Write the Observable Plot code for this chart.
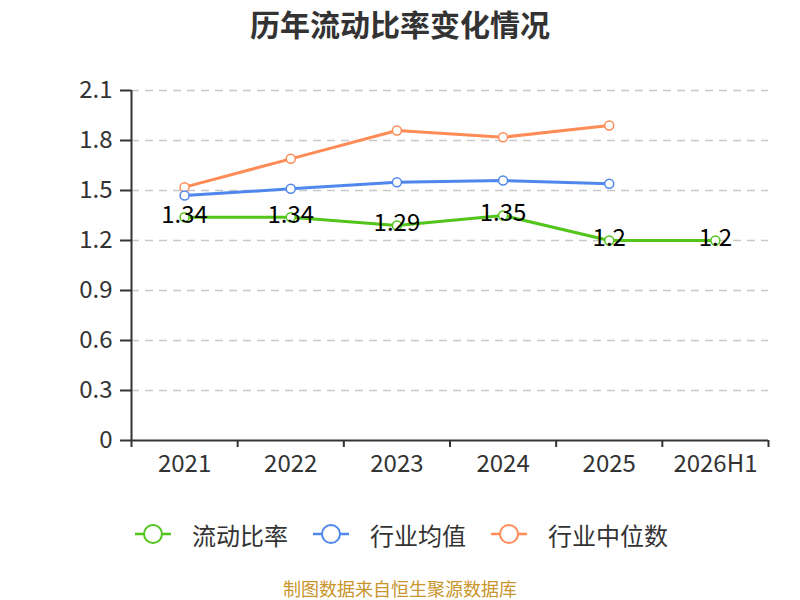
<!DOCTYPE html>
<html>
<head>
<meta charset="utf-8">
<script src="https://cdn.jsdelivr.net/npm/d3@7"></script>
<script src="https://cdn.jsdelivr.net/npm/@observablehq/plot@0.6"></script>
<style>
  body { margin: 0; background: #fff; font-family: "Noto Sans CJK SC", "Noto Sans", sans-serif; }
  #wrap { position: relative; width: 800px; height: 600px; overflow: hidden; }
  #title { position: absolute; top: 0; left: 0; width: 800px; height: 50px; line-height: 46px; text-align: center; font-size: 30px; font-weight: bold; color: #333; }
  #chart { position: absolute; top: 50px; left: 0; }
  #legend { position: absolute; top: 516px; left: 0; width: 800px; height: 36px; }
  .item { position: absolute; top: 0; height: 36px; display: flex; align-items: center; font-size: 24px; color: #333; }
  .item svg { margin-right: 20px; }
  #caption { position: absolute; top: 578px; left: 0; width: 800px; height: 20px; line-height: 20px; text-align: center; font-size: 18px; color: #c8952c; }
</style>
</head>
<body>
<div id="wrap">
  <div id="title">历年流动比率变化情况</div>
  <div id="chart"></div>
  <div id="legend"></div>
  <div id="caption">制图数据来自恒生聚源数据库</div>
</div>
<script>
const categories = ["2021", "2022", "2023", "2024", "2025", "2026H1"];
const currentRatio = [1.34, 1.34, 1.29, 1.35, 1.2, 1.2];
const industryMean = [1.47, 1.51, 1.55, 1.56, 1.54];
const industryMedian = [1.52, 1.69, 1.86, 1.82, 1.89];
const yTicks = [0, 0.3, 0.6, 0.9, 1.2, 1.5, 1.8, 2.1];

const seriesNames = ["流动比率", "行业均值", "行业中位数"];
const seriesColors = ["#52c41a", "#5087ec", "#ff8b57"];

const toRows = (vals) => vals.map((v, i) => ({ x: i + 0.5, y: v, label: categories[i] }));
const green = toRows(currentRatio);
const blue = toRows(industryMean);
const orange = toRows(industryMedian);

const boundaries = d3.range(0, categories.length + 1);
const centers = categories.map((c, i) => i + 0.5);

const chart = Plot.plot({
  width: 800,
  height: 460,
  marginTop: 40,
  marginBottom: 70,
  marginLeft: 131,
  marginRight: 32,
  style: { fontFamily: '"Noto Sans CJK SC", "Noto Sans", sans-serif', background: "transparent", overflow: "visible" },
  x: { type: "linear", domain: [0, categories.length] },
  y: { domain: [0, 2.1] },
  marks: [
    Plot.gridY(yTicks.filter(d => d > 0), { stroke: "#c8c8c8", strokeOpacity: 1, strokeWidth: 1.5, strokeDasharray: "8,6" }),
    Plot.axisY({ ticks: yTicks, tickSize: 11, tickPadding: 8, fontSize: 24, color: "#333", tickFormat: d => String(d), strokeWidth: 2, label: null }),
    Plot.axisX({ ticks: boundaries, tickSize: 7, tickFormat: () => "", stroke: "#333", strokeWidth: 2, label: null }),
    Plot.axisX({ ticks: centers, tickSize: 0, tickPadding: 14, fontSize: 24, color: "#333", tickFormat: d => categories[Math.round(d - 0.5)], label: null }),
    Plot.ruleX([0], { stroke: "#333", strokeWidth: 2 }),
    Plot.ruleY([0], { stroke: "#333", strokeWidth: 2 }),
    Plot.line(orange, { x: "x", y: "y", stroke: seriesColors[2], strokeWidth: 3 }),
    Plot.line(blue, { x: "x", y: "y", stroke: seriesColors[1], strokeWidth: 3 }),
    Plot.line(green, { x: "x", y: "y", stroke: seriesColors[0], strokeWidth: 3 }),
    Plot.dot(orange, { x: "x", y: "y", r: 4.5, fill: "#fff", stroke: seriesColors[2], strokeWidth: 1.5 }),
    Plot.dot(blue, { x: "x", y: "y", r: 4.5, fill: "#fff", stroke: seriesColors[1], strokeWidth: 1.5 }),
    Plot.dot(green, { x: "x", y: "y", r: 4.5, fill: "#fff", stroke: seriesColors[0], strokeWidth: 1.5 }),
    Plot.text(green, { x: "x", y: "y", text: d => String(d.y), fontSize: 24, fill: "#000", dy: -2 })
  ]
});
document.getElementById("chart").appendChild(chart);

const legendLeft = [134, 312, 490];
const legend = document.getElementById("legend");
seriesNames.forEach((name, i) => {
  const item = document.createElement("div");
  item.className = "item";
  item.style.left = legendLeft[i] + "px";
  item.innerHTML = `<svg width="38" height="24"><line x1="1" y1="12" x2="37" y2="12" stroke="${seriesColors[i]}" stroke-width="2.5"/><circle cx="19" cy="12" r="9" fill="#fff" stroke="${seriesColors[i]}" stroke-width="2"/></svg><span>${name}</span>`;
  legend.appendChild(item);
});
</script>
</body>
</html>
